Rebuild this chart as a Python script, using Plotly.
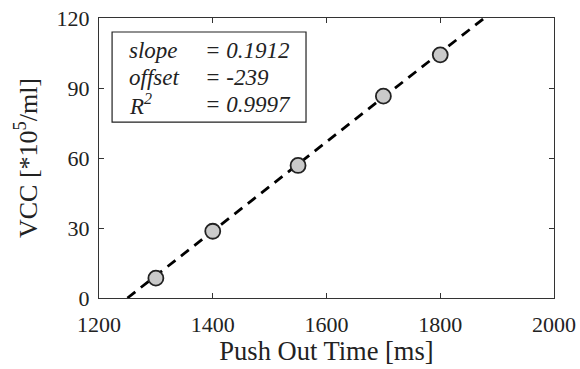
import plotly.graph_objects as go

push_time = [1300, 1400, 1550, 1700, 1800]
vcc = [8.5, 28.6, 56.8, 86.5, 104.2]
slope = 0.1912
offset = -239
r2 = 0.9997
x_ticks = [1200, 1400, 1600, 1800, 2000]
y_ticks = [0, 30, 60, 90, 120]

fit_x = [-offset / slope, (120 - offset) / slope]
fit_y = [slope * v + offset for v in fit_x]

FONT = "Liberation Serif"
fig = go.Figure()
fig.add_trace(go.Scatter(x=fit_x, y=fit_y, mode="lines",
                         line=dict(color="black", width=2.8, dash="10px,7px"),
                         showlegend=False, hoverinfo="skip"))
fig.add_trace(go.Scatter(x=push_time, y=vcc, mode="markers",
                         marker=dict(size=15, color="#cacaca",
                                     line=dict(color="#222", width=1.8)),
                         showlegend=False))

axis_common = dict(showgrid=False, zeroline=False, showline=True, linecolor="#333",
                   linewidth=1.2, mirror="allticks", ticks="inside", ticklen=5,
                   tickcolor="#333", automargin=False, ticklabeloverflow="allow",
                   tickfont=dict(family=FONT, size=22, color="#222"))
fig.update_xaxes(range=[1200, 2000], tickvals=x_ticks, ticklabelstandoff=6,
                 title=dict(text="Push Out Time [ms]", font=dict(family=FONT, size=26.5, color="#222"), standoff=3),
                 **axis_common)
fig.update_yaxes(range=[0, 120], tickvals=y_ticks, ticklabelstandoff=4,
                 title=dict(text="VCC [*10<sup>5</sup>/ml]", font=dict(family=FONT, size=26, color="#222"), standoff=11),
                 **axis_common)

fig.add_shape(type="rect", xref="x", yref="y", x0=1223, x1=1564, y0=75.4, y1=114,
              line=dict(color="#222", width=1.2), fillcolor="white", layer="below")

labels = ["slope", "offset", "R<sup>2</sup>"]
values = ["= %.4f" % slope, "= %d" % offset, "= %.4f" % r2]
ys = [106, 94.5, 83]
for lab, val, yy in zip(labels, values, ys):
    fig.add_annotation(x=1250, y=yy, xref="x", yref="y", text="<i>%s</i>" % lab,
                       showarrow=False, xanchor="left", yanchor="middle",
                       font=dict(family=FONT, size=23, color="#222"))
    fig.add_annotation(x=1383, y=yy, xref="x", yref="y", text="<i>%s</i>" % val,
                       showarrow=False, xanchor="left", yanchor="middle",
                       font=dict(family=FONT, size=23, color="#222"))

fig.update_layout(width=580, height=369, margin=dict(l=99, r=26, t=18, b=71),
                  plot_bgcolor="white", paper_bgcolor="white")
fig.write_html("out.html", config={"displayModeBar": False},
               post_script="document.body.style.margin='0';document.body.style.overflow='hidden';")
